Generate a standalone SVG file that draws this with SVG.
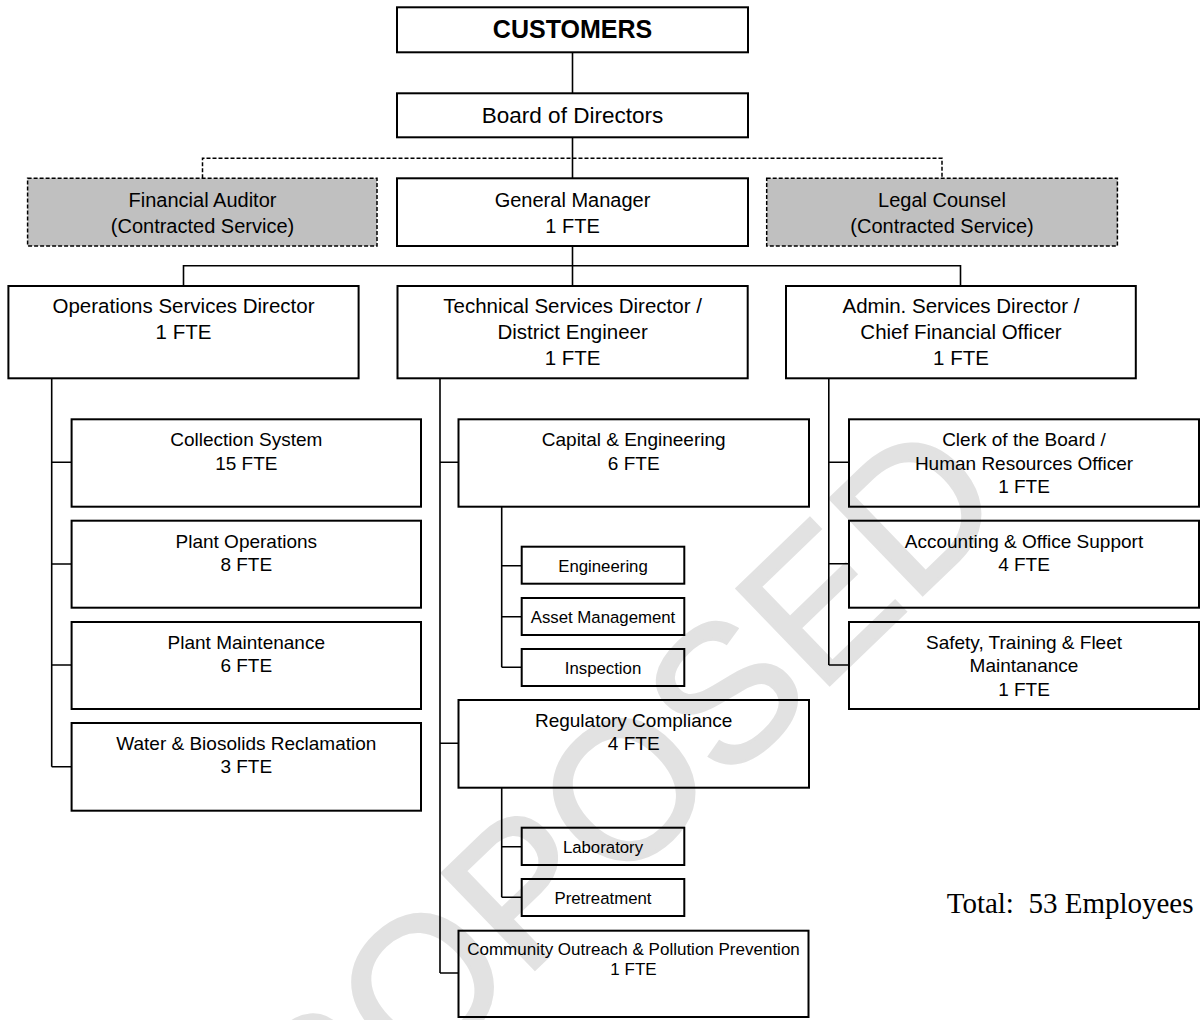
<svg xmlns="http://www.w3.org/2000/svg" width="1201" height="1020" viewBox="0 0 1201 1020">
  <style>
    .box { fill: none; stroke: #000; stroke-width: 2; }
    .contract { fill: #c0c0c0; stroke: #000; stroke-width: 1.5; stroke-dasharray: 4 2; }
    .link { fill: none; stroke: #000; stroke-width: 1.6; }
    .dash { fill: none; stroke: #000; stroke-width: 1.5; stroke-dasharray: 4 2; }
    text { font-family: "Liberation Sans", Arial, sans-serif; fill: #000; text-anchor: middle; }
    .t1 { font-size: 25px; font-weight: bold; }
    .t2 { font-size: 22.5px; }
    .t3 { font-size: 20px; }
    .t4 { font-size: 20.5px; }
    .t5 { font-size: 19px; }
    .t6 { font-size: 16.8px; }
    .t7 { font-size: 17px; }
    .total { font-family: "Liberation Serif", "Times New Roman", serif; font-size: 29px; text-anchor: start; white-space: pre; }
    .mark { font-family: "Liberation Sans", Arial, sans-serif; font-size: 194px; fill: #e2e2e2; stroke: #e2e2e2; stroke-width: 3; text-anchor: middle; }
  </style>

  <rect x="0" y="0" width="1201" height="1020" fill="#fff"/>

  <!-- watermark across the chart -->
  <g id="watermark" transform="translate(568,840) rotate(-44)">
    <text class="mark" x="0" y="70">PROPOSED</text>
  </g>

  <!-- reporting lines -->
  <g id="connectors">
    <path class="link" d="M572.5,52.3 V93.3"/>
    <path class="link" d="M572.5,137.3 V178.3"/>
    <path class="dash" d="M202.5,178.3 V158.3 H942 V178.3"/>
    <path class="link" d="M572.5,246 V286"/>
    <path class="link" d="M183.5,286 V265.7 H960.5 V286"/>
    <!-- operations -->
    <path class="link" d="M51.7,378.3 V766.7 M51.7,462.3 H71.6 M51.7,564 H71.6 M51.7,665 H71.6 M51.7,766.7 H71.6"/>
    <!-- technical -->
    <path class="link" d="M440,378.3 V973 M440,462.3 H458.5 M440,743.3 H458.5 M440,973 H458.5"/>
    <path class="link" d="M501.7,506.7 V667.3 M501.7,565.7 H521.7 M501.7,616.7 H521.7 M501.7,667.3 H521.7"/>
    <path class="link" d="M501.7,787.7 V897.3 M501.7,846.7 H521.7 M501.7,897.3 H521.7"/>
    <!-- administration -->
    <path class="link" d="M828.8,378.3 V665 M828.8,462.3 H849 M828.8,563.7 H849 M828.8,665 H849"/>
  </g>

  <g id="customers">
    <rect class="box" x="397" y="7.3" width="351" height="45"/>
    <text class="t1" x="572.5" y="38">CUSTOMERS</text>
  </g>
  <g id="board">
    <rect class="box" x="397" y="93.3" width="351" height="44"/>
    <text class="t2" x="572.5" y="123.3">Board of Directors</text>
  </g>
  <g id="financial-auditor">
    <rect class="contract" x="27.6" y="178.3" width="349.4" height="67.7"/>
    <text class="t3" x="202.5" y="207">Financial Auditor</text>
    <text class="t3" x="202.5" y="233">(Contracted Service)</text>
  </g>
  <g id="general-manager">
    <rect class="box" x="397" y="178.3" width="351" height="67.7"/>
    <text class="t3" x="572.5" y="207">General Manager</text>
    <text class="t3" x="572.5" y="233">1 FTE</text>
  </g>
  <g id="legal-counsel">
    <rect class="contract" x="766.7" y="178.3" width="350.7" height="67.7"/>
    <text class="t3" x="942" y="207">Legal Counsel</text>
    <text class="t3" x="942" y="233">(Contracted Service)</text>
  </g>

  <g id="operations-director">
    <rect class="box" x="8.4" y="286" width="350.2" height="92.3"/>
    <text class="t4" x="183.5" y="313">Operations Services Director</text>
    <text class="t4" x="183.5" y="339">1 FTE</text>
  </g>
  <g id="technical-director">
    <rect class="box" x="397.5" y="286" width="350.2" height="92.3"/>
    <text class="t4" x="572.6" y="313">Technical Services Director /</text>
    <text class="t4" x="572.6" y="339">District Engineer</text>
    <text class="t4" x="572.6" y="365">1 FTE</text>
  </g>
  <g id="admin-director">
    <rect class="box" x="786" y="286" width="349.8" height="92.3"/>
    <text class="t4" x="961" y="313">Admin. Services Director /</text>
    <text class="t4" x="961" y="339">Chief Financial Officer</text>
    <text class="t4" x="961" y="365">1 FTE</text>
  </g>

  <g id="collection-system">
    <rect class="box" x="71.6" y="419.3" width="349.4" height="87.4"/>
    <text class="t5" x="246.3" y="446.3">Collection System</text>
    <text class="t5" x="246.3" y="469.6">15 FTE</text>
  </g>
  <g id="plant-operations">
    <rect class="box" x="71.6" y="520.7" width="349.4" height="87"/>
    <text class="t5" x="246.3" y="547.7">Plant Operations</text>
    <text class="t5" x="246.3" y="571">8 FTE</text>
  </g>
  <g id="plant-maintenance">
    <rect class="box" x="71.6" y="622" width="349.4" height="87"/>
    <text class="t5" x="246.3" y="649">Plant Maintenance</text>
    <text class="t5" x="246.3" y="672.3">6 FTE</text>
  </g>
  <g id="water-biosolids">
    <rect class="box" x="71.6" y="723" width="349.4" height="87.7"/>
    <text class="t5" x="246.3" y="750">Water &amp; Biosolids Reclamation</text>
    <text class="t5" x="246.3" y="773.3">3 FTE</text>
  </g>

  <g id="capital-engineering">
    <rect class="box" x="458.5" y="419.3" width="350.5" height="87.4"/>
    <text class="t5" x="633.7" y="446.3">Capital &amp; Engineering</text>
    <text class="t5" x="633.7" y="469.6">6 FTE</text>
  </g>
  <g id="engineering">
    <rect class="box" x="521.7" y="546.7" width="162.6" height="37"/>
    <text class="t6" x="603" y="571.5">Engineering</text>
  </g>
  <g id="asset-management">
    <rect class="box" x="521.7" y="598" width="162.6" height="37"/>
    <text class="t6" x="603" y="622.6">Asset Management</text>
  </g>
  <g id="inspection">
    <rect class="box" x="521.7" y="649" width="162.6" height="37"/>
    <text class="t6" x="603" y="673.6">Inspection</text>
  </g>
  <g id="regulatory-compliance">
    <rect class="box" x="458.5" y="700" width="350.5" height="87.7"/>
    <text class="t5" x="633.7" y="727">Regulatory Compliance</text>
    <text class="t5" x="633.7" y="750.3">4 FTE</text>
  </g>
  <g id="laboratory">
    <rect class="box" x="521.7" y="827.7" width="162.6" height="37.3"/>
    <text class="t6" x="603" y="852.5">Laboratory</text>
  </g>
  <g id="pretreatment">
    <rect class="box" x="521.7" y="879" width="162.6" height="37"/>
    <text class="t6" x="603" y="903.5">Pretreatment</text>
  </g>
  <g id="community-outreach">
    <rect class="box" x="458.5" y="930.7" width="350" height="86.3"/>
    <text class="t7" x="633.5" y="954.5">Community Outreach &amp; Pollution Prevention</text>
    <text class="t7" x="633.5" y="974.5">1 FTE</text>
  </g>

  <g id="clerk-hr">
    <rect class="box" x="849" y="419.3" width="350" height="87.4"/>
    <text class="t5" x="1024" y="446.3">Clerk of the Board /</text>
    <text class="t5" x="1024" y="469.6">Human Resources Officer</text>
    <text class="t5" x="1024" y="492.9">1 FTE</text>
  </g>
  <g id="accounting">
    <rect class="box" x="849" y="520.7" width="350" height="87"/>
    <text class="t5" x="1024" y="547.7">Accounting &amp; Office Support</text>
    <text class="t5" x="1024" y="571">4 FTE</text>
  </g>
  <g id="safety-fleet">
    <rect class="box" x="849" y="622" width="350" height="87"/>
    <text class="t5" x="1024" y="649">Safety, Training &amp; Fleet</text>
    <text class="t5" x="1024" y="672.3">Maintanance</text>
    <text class="t5" x="1024" y="695.6">1 FTE</text>
  </g>

  <g id="total">
    <text class="total" x="946.7" y="913.3">Total:  53 Employees</text>
  </g>
</svg>
